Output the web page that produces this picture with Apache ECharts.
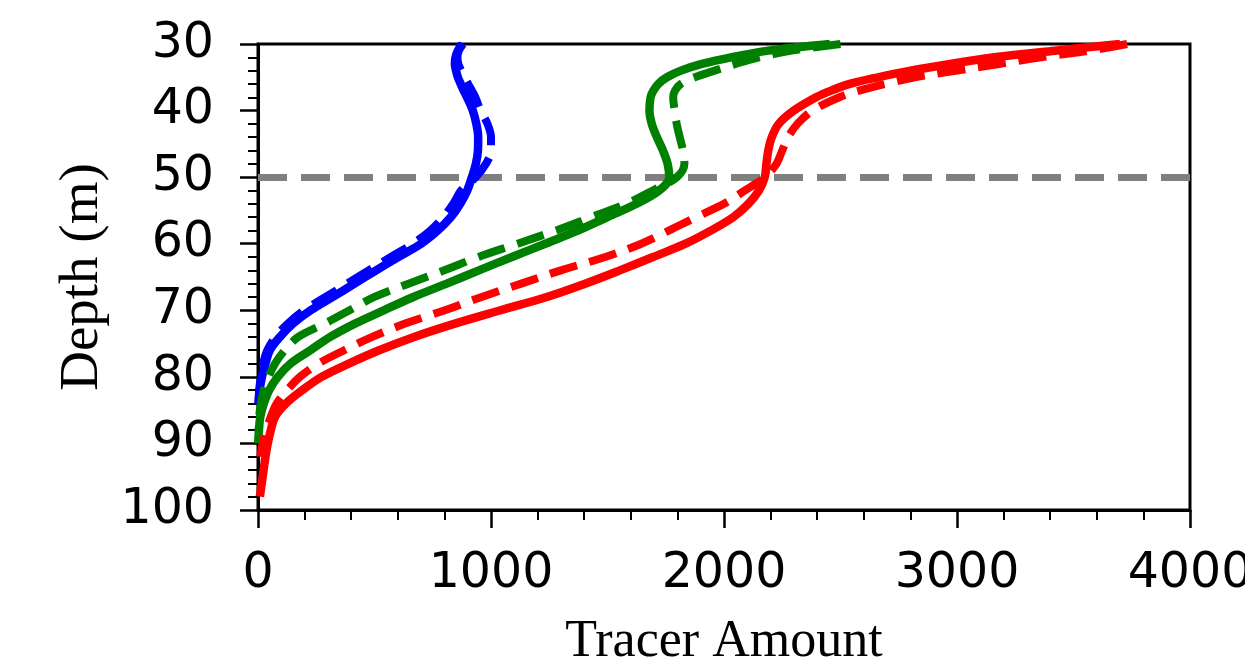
<!DOCTYPE html>
<html>
<head>
<meta charset="utf-8">
<script src="https://cdn.jsdelivr.net/npm/echarts@6/dist/echarts.min.js"></script>
<style>
html,body{margin:0;padding:0;background:#fff;}
#chart{width:1245px;height:665px;}
</style>
</head>
<body>
<div id="chart"></div>
<script>
// Depth levels (m)
var depth = [30,31,32,33,34,35,36,37,38,40,42,44,46,48,50,52,54,56,58,60,62,64,66,68,70,72,74,76,78,80,82,84,86,88,90,92,94,96,98];
// Tracer amount per depth for each profile
var blueSolid  = [875,858,848,845,850,858,870,883,897,922,937,945,944,935,918,898,868,828,772,700,602,507,414,321,226,150,94,51,32,17,7,3,null,null,null,null,null,null,null];
var blueDashed = [880,862,856,860,872,887,902,918,933,955,985,1000,1000,978,935,872,838,795,740,665,570,475,383,290,198,128,75,40,22,12,5,2,null,null,null,null,null,null,null];
var greenSolid = [2455,2190,2030,1905,1815,1755,1718,1697,1685,1680,1690,1712,1738,1758,1765,1722,1625,1500,1375,1233,1090,948,810,667,540,416,310,225,140,85,48,25,10,4,1,null,null,null,null];
var greenDashed= [2500,2290,2150,2050,1960,1875,1815,1790,1782,1788,1797,1810,1824,1830,1798,1695,1580,1430,1280,1114,945,799,646,500,393,287,173,115,73,45,25,12,5,2,null,null,null,null,null];
var redSolid   = [3700,3420,3160,2970,2800,2660,2540,2460,2395,2300,2235,2205,2190,2182,2175,2150,2105,2040,1945,1835,1695,1553,1404,1239,1040,845,670,520,390,273,190,120,73,55,42,32,24,16,8];
var redDashed  = [3730,3570,3360,3180,3000,2820,2690,2580,2495,2380,2315,2275,2250,2225,2175,2090,2000,1880,1765,1645,1490,1300,1130,960,802,631,490,370,260,180,125,80,55,35,20,10,null,null,null];
// Reference depth line
var refDepth = 50;
// Axis settings
var xTicks = [0,1000,2000,3000,4000];
var yTicks = [30,40,50,60,70,80,90,100];

function pairs(vals){
  var out = [];
  for (var i = 0; i < depth.length; i++) {
    if (vals[i] != null) out.push([vals[i], depth[i]]);
  }
  return out;
}

var solidW = 8.5, dashW = 8, dashPat = [28, 13];
function mk(name, vals, color, dashed){
  return {
    name: name, type: 'line', data: pairs(vals), smooth: 0.35,
    showSymbol: false, symbol: 'none',
    lineStyle: { color: color, width: dashed ? dashW : solidW, type: dashed ? dashPat : 'solid', cap: 'butt' },
    z: 3
  };
}

var chart = echarts.init(document.getElementById('chart'), null, {renderer: 'canvas'});
var series = [
  mk('blue solid', blueSolid, '#0000ff', false),
  mk('blue dashed', blueDashed, '#0000ff', true),
  mk('green solid', greenSolid, '#008000', false),
  mk('green dashed', greenDashed, '#008000', true),
  mk('red solid', redSolid, '#ff0000', false),
  mk('red dashed', redDashed, '#ff0000', true)
];
series[0].markLine = {
  silent: true, symbol: 'none', z: 1, animation: false,
  label: { show: false },
  lineStyle: { color: '#808080', width: 7, type: [29, 14] },
  data: [{ yAxis: refDepth }]
};

chart.setOption({
  animation: false,
  backgroundColor: '#ffffff',
  grid: { left: 258, right: 55, top: 44, bottom: 155, outerBoundsMode: 'none', containLabel: false, show: true, borderColor: '#000', borderWidth: 3, backgroundColor: 'transparent' },
  xAxis: {
    type: 'value', min: xTicks[0], max: xTicks[xTicks.length-1], interval: 1000,
    name: 'Tracer Amount', nameLocation: 'middle', nameGap: 106,
    nameTextStyle: { fontFamily: '"Liberation Serif", "Times New Roman", serif', fontSize: 52, color: '#000' },
    axisLine: { show: true, lineStyle: { color: '#000', width: 3 } },
    axisTick: { show: true, inside: false, length: 18, lineStyle: { color: '#000', width: 2.5 } },
    minorTick: { show: true, splitNumber: 5, length: 10, lineStyle: { color: '#000', width: 2 } },
    axisLabel: { fontFamily: '"DejaVu Sans", sans-serif', fontSize: 49, color: '#000', margin: 40, showMaxLabel: true, showMinLabel: true, hideOverlap: false,
      formatter: function (v) { return String(v); } },
    splitLine: { show: false }
  },
  yAxis: {
    type: 'value', inverse: true, min: yTicks[0], max: yTicks[yTicks.length-1], interval: 10,
    name: 'Depth (m)', nameLocation: 'middle', nameGap: 136, nameRotate: 90,
    nameTextStyle: { fontFamily: '"Liberation Serif", "Times New Roman", serif', fontSize: 55, color: '#000' },
    axisLine: { show: true, lineStyle: { color: '#000', width: 3 } },
    axisTick: { show: true, inside: false, length: 18, lineStyle: { color: '#000', width: 2.5 } },
    minorTick: { show: true, splitNumber: 5, length: 10, lineStyle: { color: '#000', width: 2 } },
    axisLabel: { fontFamily: '"DejaVu Sans", sans-serif', fontSize: 49, color: '#000', margin: 44, hideOverlap: false,
      formatter: function (v) { return String(v); } },
    splitLine: { show: false }
  },
  series: series
});
</script>
</body>
</html>
